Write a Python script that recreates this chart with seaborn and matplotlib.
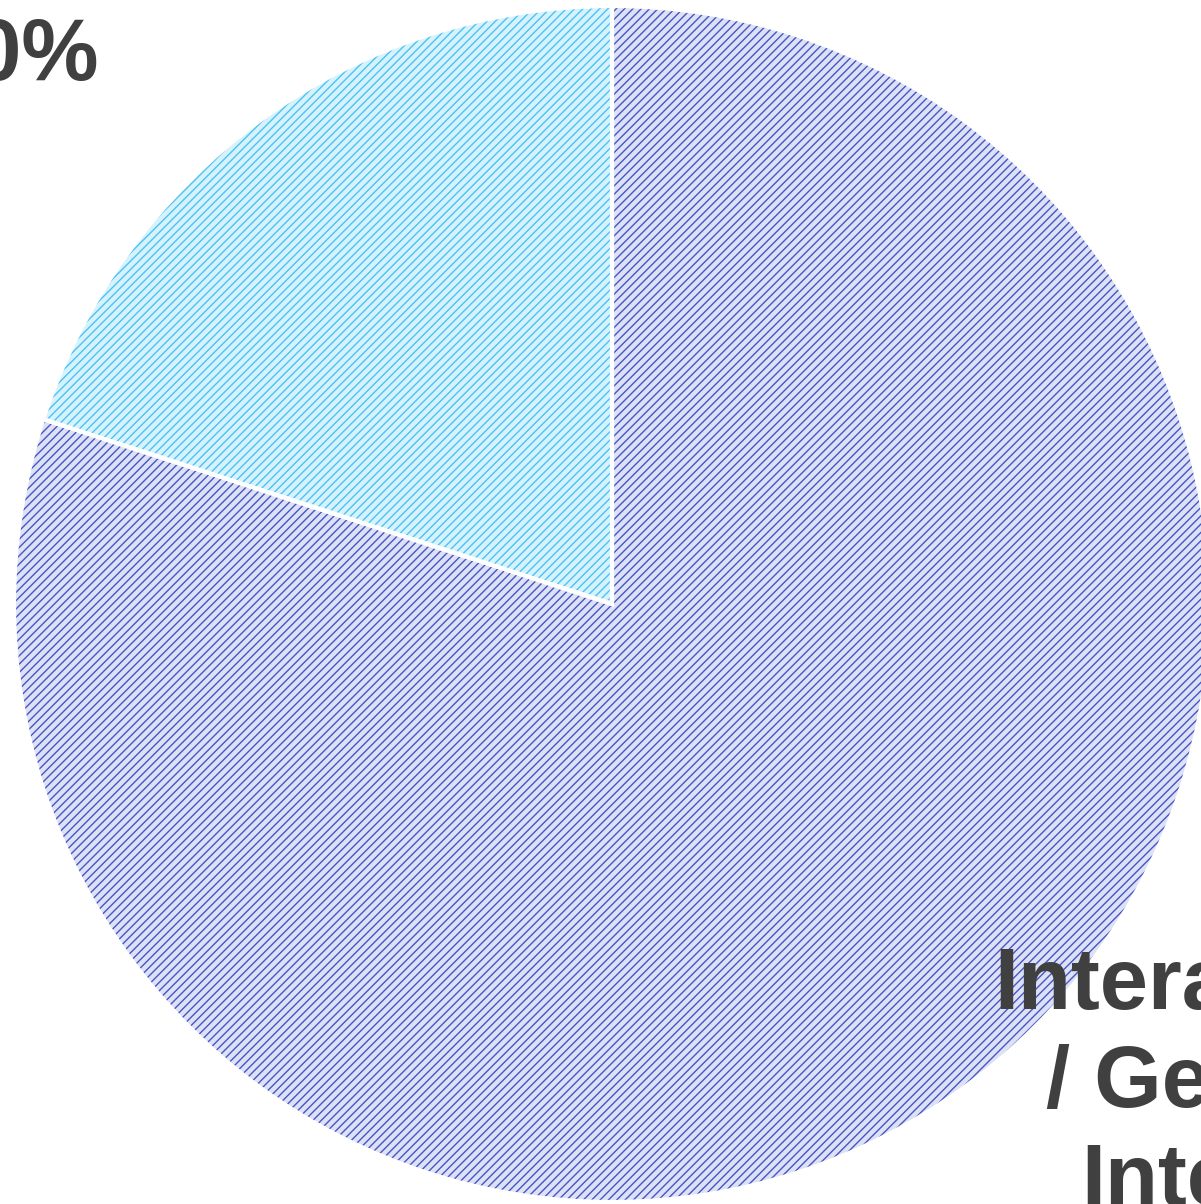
import matplotlib
matplotlib.use("Agg")
import matplotlib.pyplot as plt
import seaborn as sns

# ---- data ----
categories = ["Other", "Interaction / Generic Interaction"]
values = [20, 80]
percent_labels = ["20%", "80%"]
dark_label_lines = ["Interaction", "/ Generic", "Interaction"]

face_colors = ["#d6f3fd", "#dde1f5"]
hatch_colors = ["#4cc2f4", "#4656c4"]

sns.set_theme(style="white")
plt.rcParams["font.family"] = ["Liberation Sans", "DejaVu Sans"]
plt.rcParams["hatch.linewidth"] = 1.0

W, H, DPI = 1201, 1204, 100
fig = plt.figure(figsize=(W / DPI, H / DPI), dpi=DPI)
ax = fig.add_axes([0, 0, 1, 1])

cx, cy, R = 612, 604, 598  # pixel geometry of the pie


def px(x, y):
    return (x - cx) / R, (cy - y) / R


# filled + hatched layer
wedges, _ = ax.pie(values, colors=face_colors, startangle=90, counterclock=True,
                   radius=1.0, wedgeprops=dict(linewidth=0))
for w, hc in zip(wedges, hatch_colors):
    w.set_hatch("////")
    w.set_edgecolor(hc)
    w.set_linewidth(0)

# white separator layer
ax.pie(values, colors=["none", "none"], startangle=90, counterclock=True,
       radius=1.0, wedgeprops=dict(linewidth=3, edgecolor="white", fill=False))

ax.set_aspect("auto")
ax.set_xlim((0 - cx) / R, (W - cx) / R)
ax.set_ylim((cy - H) / R, cy / R)
ax.axis("off")

txt_kw = dict(fontsize=62.5, fontweight="bold", color="#404040")

# light slice label (top-left, clipped by the canvas as in the reference)
x, y = px(99, 80)
ax.text(x, y, percent_labels[0], ha="right", va="baseline", **txt_kw)

# dark slice label (bottom-right, clipped by the canvas as in the reference)
starts = [1000, 1052, 1087]
baselines = [1009, 1107, 1205]
for line, sx, by in zip(dark_label_lines, starts, baselines):
    x, y = px(sx - 6, by)
    ax.text(x, y, line, ha="left", va="baseline", **txt_kw)

fig.savefig("out.png", dpi=DPI)
